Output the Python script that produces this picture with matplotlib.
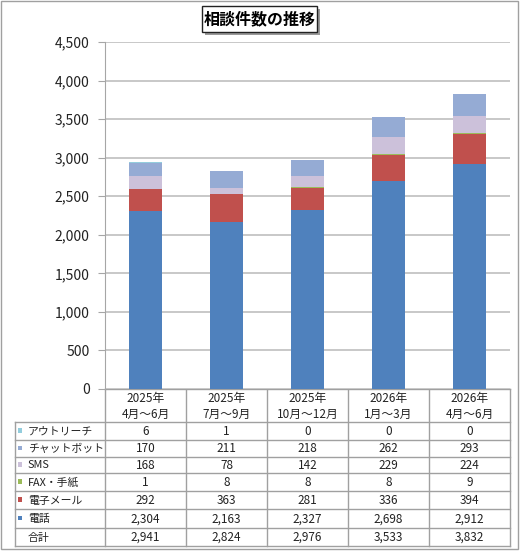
import matplotlib
matplotlib.use("Agg")
import matplotlib.pyplot as plt
from matplotlib.patches import Rectangle
import numpy as np

plt.rcParams['font.family'] = ['Noto Sans CJK JP', 'DejaVu Sans']

categories = ["2025年\n4月～6月", "2025年\n7月～9月", "2025年\n10月～12月", "2026年\n1月～3月", "2026年\n4月～6月"]
series_names = ["電話", "電子メール", "FAX・手紙", "SMS", "チャットボット", "アウトリーチ"]
phone = [2304, 2163, 2327, 2698, 2912]
email = [292, 363, 281, 336, 394]
fax = [1, 8, 8, 8, 9]
sms = [168, 78, 142, 229, 224]
chatbot = [170, 211, 218, 262, 293]
outreach = [6, 1, 0, 0, 0]
totals = [2941, 2824, 2976, 3533, 3832]
colors = ["#4F81BD", "#C0504D", "#9BBB59", "#CCC1DA", "#95ABD4", "#93CDDD"]
title = "相談件数の推移"
yticks = [0, 500, 1000, 1500, 2000, 2500, 3000, 3500, 4000, 4500]

series = [phone, email, fax, sms, chatbot, outreach]

W, H = 520, 551
fig = plt.figure(figsize=(W / 100, H / 100), dpi=100)

# overlay axes in pixel coords
ov = fig.add_axes([0, 0, 1, 1])
ov.set_xlim(0, W)
ov.set_ylim(H, 0)
ov.axis('off')

# chart axes
x0, x1, ytop, ybot = 105, 510, 42, 389
ax = fig.add_axes([x0 / W, (H - ybot) / H, (x1 - x0) / W, (ybot - ytop) / H])
ax.set_xlim(-0.5, 4.5)
ax.set_ylim(0, 4500)
ax.set_yticks(yticks)
ax.set_yticklabels([f"{v:,}" for v in yticks], fontsize=10, color="#222222")
ax.set_xticks([])
for s in ['top', 'right', 'bottom']:
    ax.spines[s].set_visible(False)
ax.spines['left'].set_color('#a6a6a6')
ax.tick_params(axis='y', length=5, color='#a6a6a6', pad=6)
ax.yaxis.grid(True, color='#bfbfbf', linewidth=1.2)
ax.set_axisbelow(True)

x = np.arange(len(categories))
bottom = np.zeros(len(categories))
for vals, c in zip(series, colors):
    v = np.array(vals, dtype=float)
    ax.bar(x, v, width=0.4, bottom=bottom, color=c, edgecolor='none', zorder=3)
    bottom += v

# title box with shadow
tx0, tx1, ty0, ty1 = 202, 317, 6, 32
ov.add_patch(Rectangle((tx0 + 3, ty0 + 3), tx1 - tx0, ty1 - ty0, facecolor='#9a9a9a', edgecolor='none', zorder=1))
ov.add_patch(Rectangle((tx0, ty0), tx1 - tx0, ty1 - ty0, facecolor='white', edgecolor='#222222', linewidth=1, zorder=2))
ov.text((tx0 + tx1) / 2, (ty0 + ty1) / 2 + 0.5, title, ha='center', va='center', fontsize=11.5, fontweight='bold', zorder=3)

# table
col_w = (x1 - x0) / len(categories)
tl = 15
row_lines = [422, 440, 457, 473, 491, 509, 528, 546]
lc = '#a0a0a0'
for i in range(len(categories) + 1):
    xx = x0 + i * col_w
    ov.plot([xx, xx], [ybot, row_lines[-1]], color=lc, lw=1)
ov.plot([tl, tl], [row_lines[0], row_lines[-1]], color=lc, lw=1)
ov.plot([x0, x1], [ybot, ybot], color=lc, lw=1)
for yy in row_lines:
    ov.plot([tl, x1], [yy, yy], color=lc, lw=1)
for i, cat in enumerate(categories):
    ov.text(x0 + (i + 0.5) * col_w, (ybot + row_lines[0]) / 2 + 1, cat, ha='center', va='center',
            fontsize=8.5, linespacing=1.3, color='#222222')

row_names = list(reversed(series_names)) + ["合計"]
row_vals = list(reversed(series)) + [totals]
row_cols = list(reversed(colors)) + [None]
for r in range(len(row_names)):
    yc = (row_lines[r] + row_lines[r + 1]) / 2
    if row_cols[r] is not None:
        ov.add_patch(Rectangle((17.5, yc - 3), 4.5, 4.5, facecolor=row_cols[r], edgecolor='none'))
    ov.text(28, yc + 0.5, row_names[r], ha='left', va='center', fontsize=7.8, color='#222222')
    for i, v in enumerate(row_vals[r]):
        ov.text(x0 + (i + 0.5) * col_w, yc + 0.5, f"{v:,}", ha='center', va='center', fontsize=8.5, color='#222222')

# outer border
ov.add_patch(Rectangle((1, 1), W - 3, H - 3, facecolor='none', edgecolor='#a0a0a0', lw=1))

fig.savefig("out.png", dpi=100)
